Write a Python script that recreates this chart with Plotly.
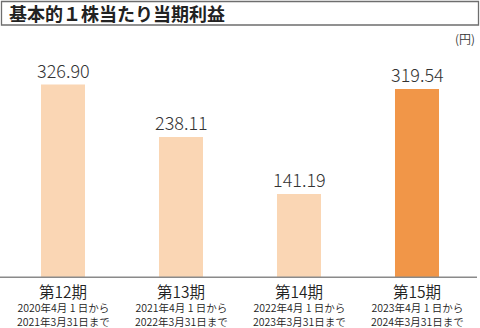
import plotly.graph_objects as go

categories = ["第12期", "第13期", "第14期", "第15期"]
values = [326.90, 238.11, 141.19, 319.54]
value_labels = ["326.90", "238.11", "141.19", "319.54"]
period_start = ["2020年4月 1 日から", "2021年4月 1 日から", "2022年4月 1 日から", "2023年4月 1 日から"]
period_end = ["2021年3月31日まで", "2022年3月31日まで", "2023年3月31日まで", "2024年3月31日まで"]
title = "基本的１株当たり当期利益"
unit = "(円)"
bar_colors = ["#FAD6B4", "#FAD6B4", "#FAD6B4", "#F19648"]

W, H = 480, 328
FONT = "Noto Sans CJK JP"
base_px = 277.3
top_px = 30
px_per_unit = 0.5895
yr = (base_px - top_px) / px_per_unit

fig = go.Figure()
fig.add_trace(go.Bar(
    x=categories, y=values, marker=dict(color=bar_colors, line=dict(width=0)),
    width=0.373, hoverinfo="skip",
))

ann = []
for c, v, lab in zip(categories, values, value_labels):
    ann.append(dict(x=c, y=v, xref="x", yref="y", text=lab, showarrow=False,
                    yanchor="bottom", yshift=0,
                    font=dict(family=FONT, size=18, color="#333333", weight=300)))
for c, s, e in zip(categories, period_start, period_end):
    ann.append(dict(x=c, y=1 - 290.5/H, xref="x", yref="paper", text=c, showarrow=False,
                    yanchor="middle", borderpad=0,
                    font=dict(family=FONT, size=15.5, color="#222222", weight=350)))
    ann.append(dict(x=c, y=1 - 314.5/H, xref="x", yref="paper", text=s + "<br>" + e,
                    showarrow=False, yanchor="middle", borderpad=0,
                    font=dict(family=FONT, size=10.5, color="#222222", weight=350)))
ann.append(dict(x=7/W, y=1 - 13.5/H, xref="paper", yref="paper", text="<b>" + title + "</b>",
                showarrow=False, xanchor="left", yanchor="middle",
                font=dict(family=FONT, size=18, color="#222222")))
ann.append(dict(x=477/W, y=1 - 38/H, xref="paper", yref="paper", text=unit,
                showarrow=False, xanchor="right", yanchor="middle",
                font=dict(family=FONT, size=12, color="#333333", weight=350)))

shapes = [
    dict(type="rect", xref="paper", yref="paper", x0=1.5/W, x1=478.5/W,
         y0=1 - 25/H, y1=1 - 1.5/H, line=dict(color="#6E6E6E", width=1.3)),
    dict(type="line", xref="paper", yref="paper", x0=0, x1=477/W,
         y0=1 - base_px/H, y1=1 - base_px/H, line=dict(color="#8A8A8A", width=1.5)),
]

fig.update_layout(
    width=W, height=H, margin=dict(l=0, r=0, t=0, b=0),
    paper_bgcolor="white", plot_bgcolor="white", showlegend=False,
    xaxis=dict(domain=[4/W, 476/W], range=[-0.5, 3.5], showticklabels=False,
               showgrid=False, zeroline=False, showline=False, fixedrange=True),
    yaxis=dict(domain=[1 - base_px/H, 1 - top_px/H], range=[0, yr], showticklabels=False,
               showgrid=False, zeroline=False, showline=False, fixedrange=True),
    annotations=ann, shapes=shapes,
)
fig.write_html("out.html", config={"displayModeBar": False})
